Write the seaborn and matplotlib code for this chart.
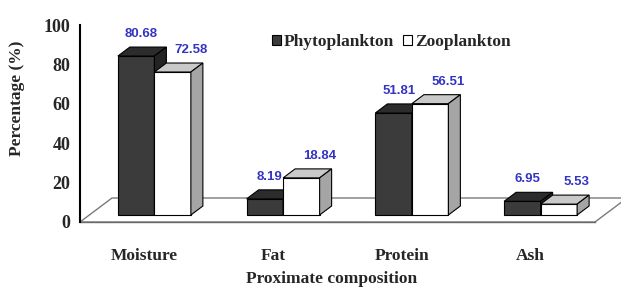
import pandas as pd
import matplotlib
matplotlib.use("Agg")
import matplotlib.pyplot as plt
from matplotlib.patches import Polygon, Patch
import seaborn as sns

# Data
categories = ["Moisture", "Fat", "Protein", "Ash"]
groups = ["Phytoplankton", "Zooplankton"]
phyto = [80.68, 8.19, 51.81, 6.95]
zoo = [72.58, 18.84, 56.51, 5.53]

df = pd.DataFrame({
    "component": categories * 2,
    "group": [groups[0]] * len(categories) + [groups[1]] * len(categories),
    "value": phyto + zoo,
})

sns.set_style("white")
plt.rcParams["font.family"] = ["Liberation Serif", "DejaVu Serif"]
plt.rcParams["font.weight"] = "bold"

W, H = 621, 287
fig = plt.figure(figsize=(W / 100, H / 100), dpi=100)
ax_l, ax_r, ax_t, ax_b = 80, 595, 25, 222
ax = fig.add_axes([ax_l / W, (H - ax_b) / H, (ax_r - ax_l) / W, (ax_b - ax_t) / H])

# front, top, side colours
face = {
    "Phytoplankton": ("#3b3b3b", "#2c2c2c", "#232323"),
    "Zooplankton": ("#ffffff", "#c9c9c9", "#a5a5a5"),
}

sns.barplot(data=df, x="component", y="value", hue="group", hue_order=groups,
            palette=[face[g][0] for g in groups], width=0.567, saturation=1,
            edgecolor="black", linewidth=0.8, legend=False, ax=ax)

ax.set_xlim(-0.5, len(categories) - 0.5)
ax.set_ylim(0, 100)

# pixel offsets -> data units
sx = (ax_r - ax_l) / len(categories)
sy = (ax_b - ax_t) / 100


def px(dx, dy):
    return dx / sx, dy / sy


bars = list(ax.patches)

# floor of the 3d plot
fdx, fdy = px(32, 24)
x0, x1 = ax.get_xlim()
floor = Polygon([(x0, 0), (x1, 0), (x1 + fdx, fdy), (x0 + fdx, fdy)], closed=True,
                facecolor="white", edgecolor="#7a7a7a", lw=1, zorder=0.5, clip_on=False)
ax.add_patch(floor)

# give the bars depth
ox, oy = px(10, 7)
ddx, ddy = px(12, 9)
lab_dy = px(0, 7)[1]
n = len(categories)
for i, p in enumerate(bars):
    g = groups[i // n]
    p.set_x(p.get_x() + ox)
    p.set_y(oy)
    xb, w, h = p.get_x(), p.get_width(), p.get_height()
    z = 2 + xb * 0.1
    p.set_zorder(z)
    p.set_clip_on(False)
    top = Polygon([(xb, oy + h), (xb + w, oy + h), (xb + w + ddx, oy + h + ddy), (xb + ddx, oy + h + ddy)],
                  closed=True, facecolor=face[g][1], edgecolor="black", lw=0.8, zorder=z + 0.001, clip_on=False)
    side = Polygon([(xb + w, oy), (xb + w + ddx, oy + ddy), (xb + w + ddx, oy + h + ddy), (xb + w, oy + h)],
                   closed=True, facecolor=face[g][2], edgecolor="black", lw=0.8, zorder=z + 0.002, clip_on=False)
    ax.add_patch(top)
    ax.add_patch(side)
    shift = px(5, 0)[0] if g == groups[0] else px(18, 0)[0]
    ax.text(xb + w / 2 + shift, oy + h + ddy + lab_dy, f"{h:.2f}", ha="center", va="bottom",
            color="#3434c2", fontsize=9.5, fontweight="bold", family="Liberation Sans", zorder=10)

# axes styling
ax.set_yticks(range(0, 101, 20))
ax.tick_params(axis="y", length=5, width=1.3, direction="out", labelsize=13, pad=2, color="black")
ax.set_xticks([i - 0.5 for i in range(n + 1)], minor=True)
ax.tick_params(axis="x", which="major", length=0, pad=19, labelsize=12.5)
ax.tick_params(axis="x", which="minor", length=4, width=1, color="#7a7a7a", direction="out")
for s in ["top", "right"]:
    ax.spines[s].set_visible(False)
ax.spines["left"].set_linewidth(1.5)
ax.spines["left"].set_color("black")
ax.spines["bottom"].set_linewidth(1)
ax.spines["bottom"].set_color("#6a6a6a")
ax.spines["bottom"].set_zorder(0.6)

ax.set_ylabel("Percentage (%)", fontsize=12.5, fontweight="bold")
ax.yaxis.set_label_coords((25 - ax_l) / (ax_r - ax_l), (ax_b - 98) / (ax_b - ax_t))
ax.set_xlabel("Proximate composition", fontsize=12.5, fontweight="bold")
ax.xaxis.set_label_coords((332 - ax_l) / (ax_r - ax_l), (ax_b - 271) / (ax_b - ax_t))

handles = [Patch(facecolor=face[g][0], edgecolor="black", lw=0.8) for g in groups]
ax.legend(handles, groups, loc="center left",
          bbox_to_anchor=((272 - ax_l) / (ax_r - ax_l), (ax_b - 42) / (ax_b - ax_t)),
          ncol=2, frameon=False, handlelength=0.5, handleheight=0.5, handletextpad=0.2,
          columnspacing=0.5, borderpad=0, borderaxespad=0, prop={"weight": "bold", "size": 12.5})

fig.savefig("out.png", dpi=100)
